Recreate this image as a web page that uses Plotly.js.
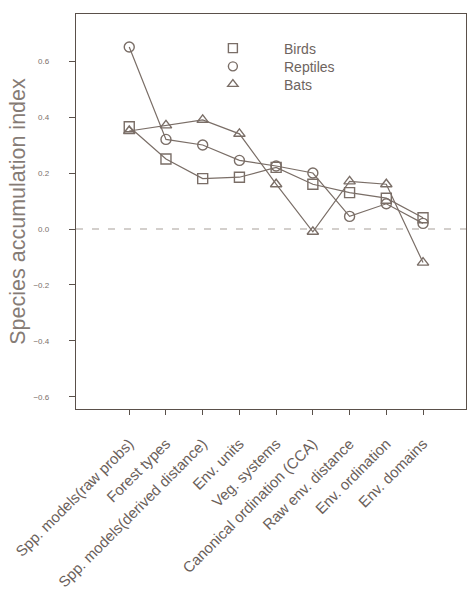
<!DOCTYPE html>
<html>
<head>
<meta charset="utf-8">
<script src="https://cdn.plot.ly/plotly-3.0.1.min.js"></script>
<style>html,body{margin:0;padding:0;background:#fff;}#chart{width:471px;height:606px;}</style>
</head>
<body>
<div id="chart"></div>
<script>
const categories = [
  "Spp. models(raw probs)",
  "Forest types",
  "Spp. models(derived distance)",
  "Env. units",
  "Veg. systems",
  "Canonical ordination (CCA)",
  "Raw env. distance",
  "Env. ordination",
  "Env. domains"
];
const birds    = [0.365, 0.25, 0.18, 0.185, 0.22, 0.16, 0.13, 0.11, 0.04];
const reptiles = [0.65, 0.32, 0.30, 0.245, 0.225, 0.20, 0.045, 0.09, 0.02];
const bats     = [0.35, 0.37, 0.39, 0.34, 0.16, -0.01, 0.17, 0.16, -0.12];
const yTicks   = [-0.6, -0.4, -0.2, 0.0, 0.2, 0.4, 0.6];

const col = '#7a6e67';
const idx = categories.map((c, i) => i);
const pad = '\u00a0\u00a0\u00a0\u00a0\u00a0\u00a0\u00a0\u00a0';

function series(name, y, symbol) {
  return {
    x: idx, y: y, name: name, type: 'scatter', mode: 'lines+markers',
    showlegend: false, cliponaxis: false,
    line: {color: col, width: 1.2},
    marker: {symbol: symbol, size: 10, color: col, line: {color: col, width: 1.4}}
  };
}
function legendItem(name, symbol, lg) {
  return {
    x: [null], y: [null], name: pad + name, type: 'scatter', mode: 'markers',
    showlegend: true, legend: lg,
    marker: {symbol: symbol, size: 9, color: col, line: {color: col, width: 1.4}}
  };
}

const data = [
  series('Birds', birds, 'square-open'),
  series('Reptiles', reptiles, 'circle-open'),
  series('Bats', bats, 'triangle-up-open'),
  legendItem('Birds', 'square-open', 'legend'),
  legendItem('Reptiles', 'circle-open', 'legend2'),
  legendItem('Bats', 'triangle-up-open', 'legend3')
];

function lgd(y) {
  return {
    x: 0.351, y: y, xanchor: 'left', yanchor: 'top',
    bgcolor: 'rgba(0,0,0,0)', borderwidth: 0,
    font: {size: 14, color: '#6e645e'},
    itemwidth: 30
  };
}

const layout = {
  width: 471, height: 606,
  margin: {l: 76, r: 5, t: 14, b: 197},
  paper_bgcolor: '#ffffff', plot_bgcolor: '#ffffff',
  font: {family: 'Liberation Sans, Arial, sans-serif', color: '#6e645e'},
  showlegend: true,
  legend: lgd(0.953),
  legend2: lgd(0.907),
  legend3: lgd(0.862),
  xaxis: {
    range: [-1.45, 9.17],
    tickmode: 'array', tickvals: idx, ticktext: categories,
    tickangle: -45, ticks: 'outside', ticklen: 5, tickcolor: '#5a504a',
    ticklabelstandoff: 14,
    tickfont: {size: 15, color: '#6a605a'},
    showgrid: false, zeroline: false,
    showline: true, linecolor: '#5a504a', linewidth: 1.2, mirror: true
  },
  yaxis: {
    range: [-0.643, 0.768],
    tickmode: 'array', tickvals: yTicks, tickformat: '.1f',
    ticks: 'outside', ticklen: 6, tickcolor: '#5a504a',
    ticklabelstandoff: 18,
    tickfont: {size: 8, color: '#7a706a'},
    showgrid: false, zeroline: false,
    showline: true, linecolor: '#5a504a', linewidth: 1.2, mirror: true,
    title: {text: 'Species accumulation index', font: {size: 21.5, color: '#857b75'}, standoff: 1}
  },
  shapes: [{
    type: 'line', xref: 'paper', yref: 'y', x0: 0, x1: 1, y0: 0, y1: 0,
    line: {color: '#a8a09a', width: 1.2, dash: '7px,9px'}
  }]
};

Plotly.newPlot('chart', data, layout, {staticPlot: true, displayModeBar: false});
</script>
</body>
</html>
